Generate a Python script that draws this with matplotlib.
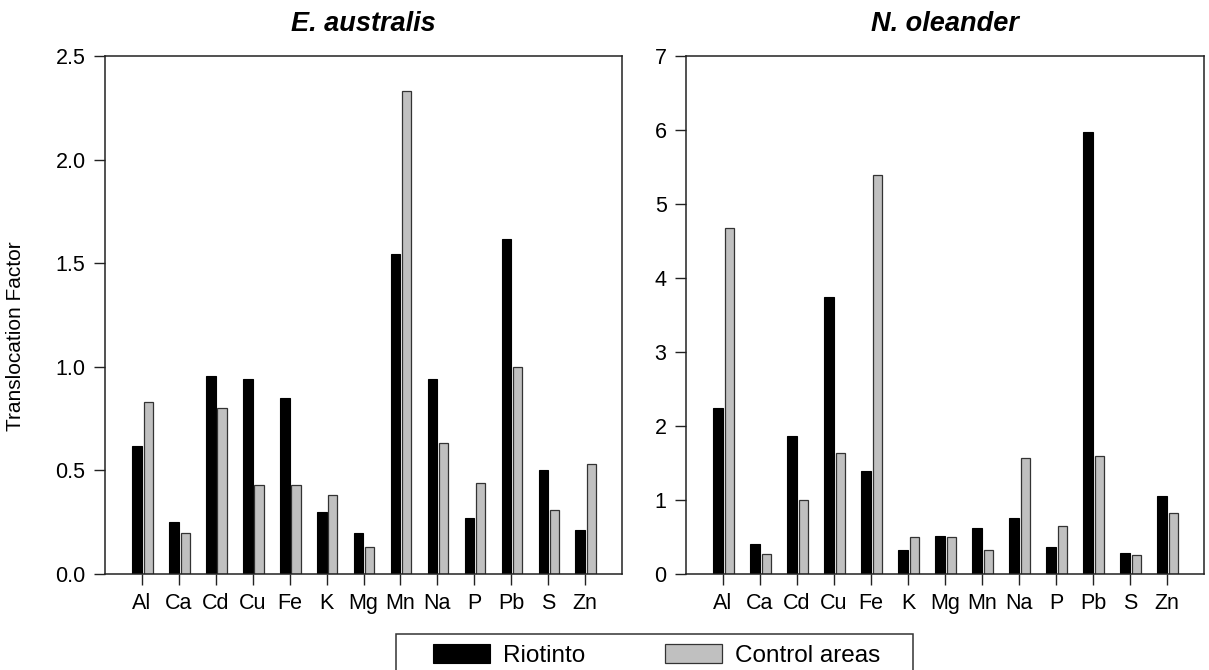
import numpy as np
import matplotlib
matplotlib.use("Agg")
import matplotlib.pyplot as plt
from matplotlib.patches import Rectangle

plt.rcParams["font.family"] = ["Liberation Sans", "DejaVu Sans"]

elements = ["Al", "Ca", "Cd", "Cu", "Fe", "K", "Mg", "Mn", "Na", "P", "Pb", "S", "Zn"]

# E. australis
eaus_riotinto = [0.62, 0.25, 0.955, 0.94, 0.85, 0.30, 0.20, 1.545, 0.94, 0.27, 1.615, 0.50, 0.21]
eaus_control = [0.83, 0.20, 0.80, 0.43, 0.43, 0.38, 0.13, 2.33, 0.63, 0.44, 1.00, 0.31, 0.53]

# N. oleander
nole_riotinto = [2.24, 0.40, 1.87, 3.75, 1.39, 0.33, 0.52, 0.62, 0.76, 0.36, 5.97, 0.28, 1.05]
nole_control = [4.67, 0.27, 1.00, 1.64, 5.39, 0.50, 0.50, 0.33, 1.57, 0.65, 1.60, 0.26, 0.82]

BLACK, GRAY, EDGE = "#000000", "#c0c0c0", "#333333"
W, H = 1209, 670


def draw(ax, riotinto, control, title, ymax, yticks, fmt):
    x = np.arange(len(elements))
    ax.bar(x - 0.13, riotinto, width=0.26, color=BLACK, edgecolor=BLACK, lw=0.8,
           label="Riotinto")
    ax.bar(x + 0.17, control, width=0.25, color=GRAY, edgecolor=EDGE, lw=0.9,
           label="Control areas")
    ax.set_xlim(-1, 13)
    ax.set_ylim(0, ymax)
    ax.set_xticks(x)
    ax.set_xticklabels(elements)
    ax.set_yticks(yticks)
    ax.set_yticklabels([fmt.format(v) for v in yticks])
    ax.tick_params(direction="out", length=8, width=1, labelsize=15.5, pad=6,
                   color="#222222")
    for s in ax.spines.values():
        s.set_linewidth(1.1)
        s.set_color("#222222")
    ax.set_title(title, fontsize=19.5, fontweight="bold", fontstyle="italic", pad=18)


fig = plt.figure(figsize=(W / 100, H / 100), dpi=100)
ax1 = fig.add_axes([105 / W, 1 - 574 / H, 517 / W, 518 / H])
ax2 = fig.add_axes([686 / W, 1 - 574 / H, 518 / W, 518 / H])

draw(ax1, eaus_riotinto, eaus_control, "E. australis", 2.5,
     [0.0, 0.5, 1.0, 1.5, 2.0, 2.5], "{:.1f}")
draw(ax2, nole_riotinto, nole_control, "N. oleander", 7, list(range(8)), "{:d}")

ax1.set_ylabel("Translocation Factor", fontsize=15)
ax1.yaxis.set_label_coords(-0.155, 0.46)

# legend box, cut by the bottom edge like the source figure
fig.patches.append(Rectangle((396 / W, -0.05), (913 - 396) / W, 0.05 + 1 - 634 / H,
                             transform=fig.transFigure, fill=False,
                             edgecolor="#333333", lw=1.1))
handles, labels = ax1.get_legend_handles_labels()
fig.legend(handles, labels, loc="upper left", bbox_to_anchor=(433 / W, 1 - 644 / H),
           ncol=2, frameon=False, fontsize=17.5, borderpad=0, borderaxespad=0,
           handlelength=2.35, handleheight=0.8, handletextpad=0.55,
           columnspacing=3.25)

fig.savefig("out.png", dpi=100)
